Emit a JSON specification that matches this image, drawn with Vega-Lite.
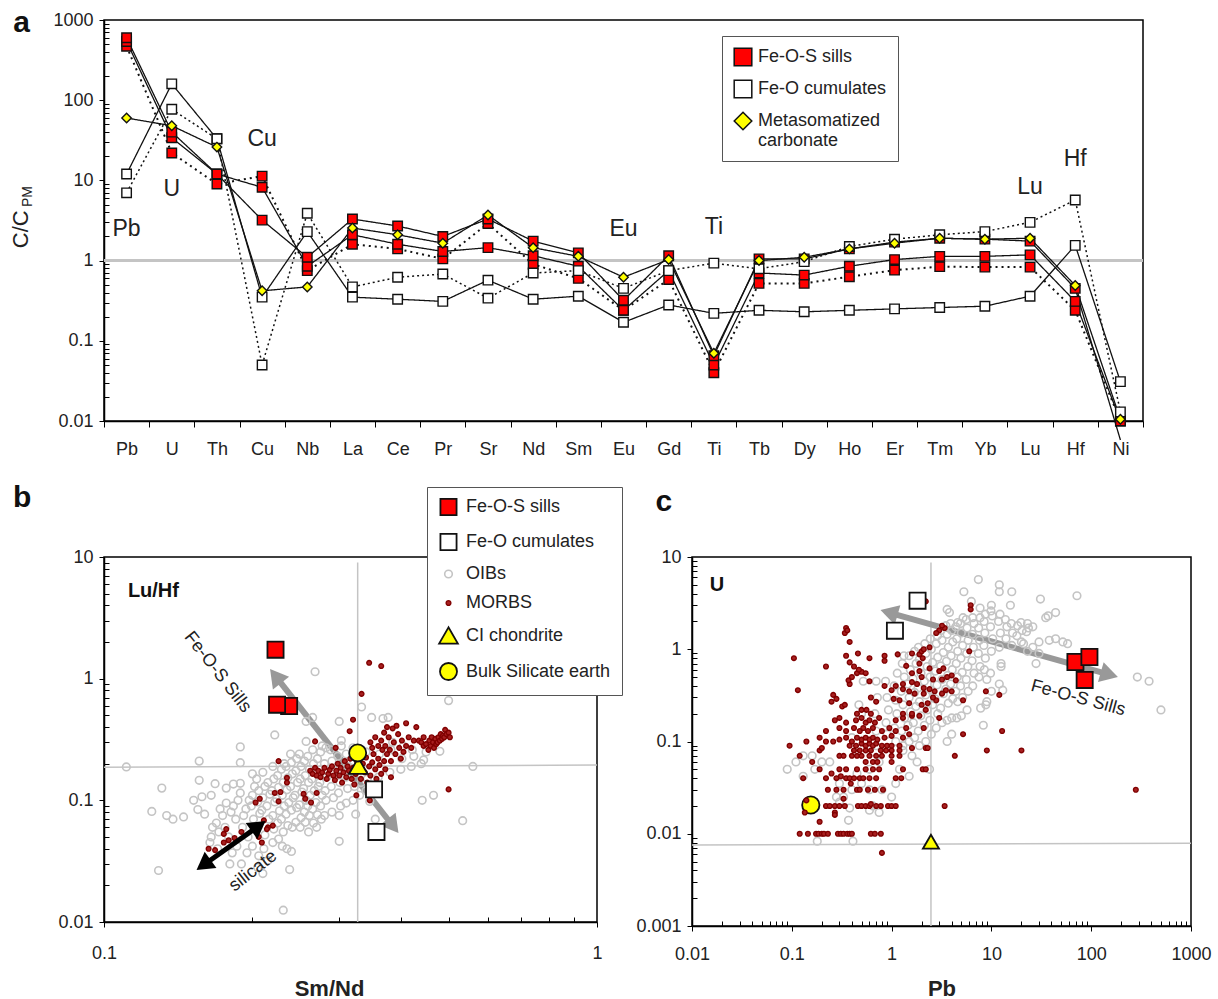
{
"$schema":"https://vega.github.io/schema/vega-lite/v6.json",
"background":"white",
"padding":{"left":8,"top":7,"right":5,"bottom":0},
"config":{"font":"Liberation Sans","view":{"stroke":"black","strokeWidth":1.5},"axis":{"grid":false,"labelFontSize":18,"labelColor":"#222","tickColor":"black","domainColor":"black","domainWidth":1.5,"labelOverlap":false,"labelFlush":false,"labelBound":false,"titleFontSize":22,"titleFontWeight":"bold","titleColor":"#222"}},
"spacing":23,
"resolve":{"scale":{"fill":"independent","shape":"independent","size":"independent","stroke":"independent","strokeWidth":"independent"},"legend":{"fill":"independent","shape":"independent","size":"independent","stroke":"independent","strokeWidth":"independent"}},
"vconcat":[
{"width":1039,"height":401,
"data":{"values":[
{"el":"Pb","v":470,"id":"R3","s":"Fe-O-S sills"},{"el":"U","v":22,"id":"R3","s":"Fe-O-S sills"},{"el":"Th","v":9,"id":"R3","s":"Fe-O-S sills"},{"el":"Cu","v":11.3,"id":"R3","s":"Fe-O-S sills"},{"el":"Nb","v":0.75,"id":"R3","s":"Fe-O-S sills"},{"el":"La","v":1.6,"id":"R3","s":"Fe-O-S sills"},{"el":"Ce","v":1.4,"id":"R3","s":"Fe-O-S sills"},{"el":"Pr","v":1.05,"id":"R3","s":"Fe-O-S sills"},{"el":"Sr","v":2.9,"id":"R3","s":"Fe-O-S sills"},{"el":"Nd","v":0.9,"id":"R3","s":"Fe-O-S sills"},{"el":"Sm","v":0.6,"id":"R3","s":"Fe-O-S sills"},{"el":"Eu","v":0.24,"id":"R3","s":"Fe-O-S sills"},{"el":"Gd","v":0.58,"id":"R3","s":"Fe-O-S sills"},{"el":"Ti","v":0.04,"id":"R3","s":"Fe-O-S sills"},{"el":"Tb","v":0.52,"id":"R3","s":"Fe-O-S sills"},{"el":"Dy","v":0.52,"id":"R3","s":"Fe-O-S sills"},{"el":"Ho","v":0.63,"id":"R3","s":"Fe-O-S sills"},{"el":"Er","v":0.76,"id":"R3","s":"Fe-O-S sills"},{"el":"Tm","v":0.84,"id":"R3","s":"Fe-O-S sills"},{"el":"Yb","v":0.83,"id":"R3","s":"Fe-O-S sills"},{"el":"Lu","v":0.83,"id":"R3","s":"Fe-O-S sills"},{"el":"Hf","v":0.24,"id":"R3","s":"Fe-O-S sills"},{"el":"Ni","v":0.01,"id":"R3","s":"Fe-O-S sills"},
{"el":"Pb","v":540,"id":"R2","s":"Fe-O-S sills"},{"el":"U","v":34,"id":"R2","s":"Fe-O-S sills"},{"el":"Th","v":12,"id":"R2","s":"Fe-O-S sills"},{"el":"Cu","v":8.2,"id":"R2","s":"Fe-O-S sills"},{"el":"Nb","v":0.85,"id":"R2","s":"Fe-O-S sills"},{"el":"La","v":2.1,"id":"R2","s":"Fe-O-S sills"},{"el":"Ce","v":1.6,"id":"R2","s":"Fe-O-S sills"},{"el":"Pr","v":1.3,"id":"R2","s":"Fe-O-S sills"},{"el":"Sr","v":1.45,"id":"R2","s":"Fe-O-S sills"},{"el":"Nd","v":1.15,"id":"R2","s":"Fe-O-S sills"},{"el":"Sm","v":0.85,"id":"R2","s":"Fe-O-S sills"},{"el":"Eu","v":0.24,"id":"R2","s":"Fe-O-S sills"},{"el":"Gd","v":0.75,"id":"R2","s":"Fe-O-S sills"},{"el":"Ti","v":0.05,"id":"R2","s":"Fe-O-S sills"},{"el":"Tb","v":0.7,"id":"R2","s":"Fe-O-S sills"},{"el":"Dy","v":0.66,"id":"R2","s":"Fe-O-S sills"},{"el":"Ho","v":0.85,"id":"R2","s":"Fe-O-S sills"},{"el":"Er","v":1.03,"id":"R2","s":"Fe-O-S sills"},{"el":"Tm","v":1.13,"id":"R2","s":"Fe-O-S sills"},{"el":"Yb","v":1.13,"id":"R2","s":"Fe-O-S sills"},{"el":"Lu","v":1.18,"id":"R2","s":"Fe-O-S sills"},{"el":"Hf","v":0.31,"id":"R2","s":"Fe-O-S sills"},{"el":"Ni","v":0.01,"id":"R2","s":"Fe-O-S sills"},
{"el":"Pb","v":600,"id":"R1","s":"Fe-O-S sills"},{"el":"U","v":40,"id":"R1","s":"Fe-O-S sills"},{"el":"Th","v":12,"id":"R1","s":"Fe-O-S sills"},{"el":"Cu","v":3.2,"id":"R1","s":"Fe-O-S sills"},{"el":"Nb","v":1.1,"id":"R1","s":"Fe-O-S sills"},{"el":"La","v":3.3,"id":"R1","s":"Fe-O-S sills"},{"el":"Ce","v":2.7,"id":"R1","s":"Fe-O-S sills"},{"el":"Pr","v":2,"id":"R1","s":"Fe-O-S sills"},{"el":"Sr","v":3.3,"id":"R1","s":"Fe-O-S sills"},{"el":"Nd","v":1.75,"id":"R1","s":"Fe-O-S sills"},{"el":"Sm","v":1.25,"id":"R1","s":"Fe-O-S sills"},{"el":"Eu","v":0.32,"id":"R1","s":"Fe-O-S sills"},{"el":"Gd","v":1.15,"id":"R1","s":"Fe-O-S sills"},{"el":"Ti","v":0.065,"id":"R1","s":"Fe-O-S sills"},{"el":"Tb","v":1.05,"id":"R1","s":"Fe-O-S sills"},{"el":"Dy","v":1.05,"id":"R1","s":"Fe-O-S sills"},{"el":"Ho","v":1.4,"id":"R1","s":"Fe-O-S sills"},{"el":"Er","v":1.7,"id":"R1","s":"Fe-O-S sills"},{"el":"Tm","v":1.9,"id":"R1","s":"Fe-O-S sills"},{"el":"Yb","v":1.85,"id":"R1","s":"Fe-O-S sills"},{"el":"Lu","v":1.75,"id":"R1","s":"Fe-O-S sills"},{"el":"Hf","v":0.45,"id":"R1","s":"Fe-O-S sills"},{"el":"Ni","v":0.0058,"id":"R1","s":"Fe-O-S sills"},
{"el":"Pb","v":12,"id":"W1","s":"Fe-O cumulates"},{"el":"U","v":160,"id":"W1","s":"Fe-O cumulates"},{"el":"Th","v":33,"id":"W1","s":"Fe-O cumulates"},{"el":"Cu","v":0.35,"id":"W1","s":"Fe-O cumulates"},{"el":"Nb","v":2.3,"id":"W1","s":"Fe-O cumulates"},{"el":"La","v":0.35,"id":"W1","s":"Fe-O cumulates"},{"el":"Ce","v":0.33,"id":"W1","s":"Fe-O cumulates"},{"el":"Pr","v":0.31,"id":"W1","s":"Fe-O cumulates"},{"el":"Sr","v":0.57,"id":"W1","s":"Fe-O cumulates"},{"el":"Nd","v":0.33,"id":"W1","s":"Fe-O cumulates"},{"el":"Sm","v":0.36,"id":"W1","s":"Fe-O cumulates"},{"el":"Eu","v":0.17,"id":"W1","s":"Fe-O cumulates"},{"el":"Gd","v":0.28,"id":"W1","s":"Fe-O cumulates"},{"el":"Ti","v":0.22,"id":"W1","s":"Fe-O cumulates"},{"el":"Tb","v":0.24,"id":"W1","s":"Fe-O cumulates"},{"el":"Dy","v":0.23,"id":"W1","s":"Fe-O cumulates"},{"el":"Ho","v":0.24,"id":"W1","s":"Fe-O cumulates"},{"el":"Er","v":0.25,"id":"W1","s":"Fe-O cumulates"},{"el":"Tm","v":0.26,"id":"W1","s":"Fe-O cumulates"},{"el":"Yb","v":0.27,"id":"W1","s":"Fe-O cumulates"},{"el":"Lu","v":0.36,"id":"W1","s":"Fe-O cumulates"},{"el":"Hf","v":1.55,"id":"W1","s":"Fe-O cumulates"},{"el":"Ni","v":0.031,"id":"W1","s":"Fe-O cumulates"},
{"el":"Pb","v":7,"id":"W2","s":"Fe-O cumulates"},{"el":"U","v":77,"id":"W2","s":"Fe-O cumulates"},{"el":"Th","v":33,"id":"W2","s":"Fe-O cumulates"},{"el":"Cu","v":0.05,"id":"W2","s":"Fe-O cumulates"},{"el":"Nb","v":3.9,"id":"W2","s":"Fe-O cumulates"},{"el":"La","v":0.47,"id":"W2","s":"Fe-O cumulates"},{"el":"Ce","v":0.62,"id":"W2","s":"Fe-O cumulates"},{"el":"Pr","v":0.68,"id":"W2","s":"Fe-O cumulates"},{"el":"Sr","v":0.34,"id":"W2","s":"Fe-O cumulates"},{"el":"Nd","v":0.7,"id":"W2","s":"Fe-O cumulates"},{"el":"Sm","v":0.75,"id":"W2","s":"Fe-O cumulates"},{"el":"Eu","v":0.45,"id":"W2","s":"Fe-O cumulates"},{"el":"Gd","v":0.75,"id":"W2","s":"Fe-O cumulates"},{"el":"Ti","v":0.93,"id":"W2","s":"Fe-O cumulates"},{"el":"Tb","v":0.79,"id":"W2","s":"Fe-O cumulates"},{"el":"Dy","v":0.97,"id":"W2","s":"Fe-O cumulates"},{"el":"Ho","v":1.5,"id":"W2","s":"Fe-O cumulates"},{"el":"Er","v":1.85,"id":"W2","s":"Fe-O cumulates"},{"el":"Tm","v":2.1,"id":"W2","s":"Fe-O cumulates"},{"el":"Yb","v":2.3,"id":"W2","s":"Fe-O cumulates"},{"el":"Lu","v":3,"id":"W2","s":"Fe-O cumulates"},{"el":"Hf","v":5.7,"id":"W2","s":"Fe-O cumulates"},{"el":"Ni","v":0.013,"id":"W2","s":"Fe-O cumulates"},
{"el":"Pb","v":60,"id":"Y1","s":"Metasomatized carbonate"},{"el":"U","v":48,"id":"Y1","s":"Metasomatized carbonate"},{"el":"Th","v":26,"id":"Y1","s":"Metasomatized carbonate"},{"el":"Cu","v":0.42,"id":"Y1","s":"Metasomatized carbonate"},{"el":"Nb","v":0.47,"id":"Y1","s":"Metasomatized carbonate"},{"el":"La","v":2.55,"id":"Y1","s":"Metasomatized carbonate"},{"el":"Ce","v":2.1,"id":"Y1","s":"Metasomatized carbonate"},{"el":"Pr","v":1.65,"id":"Y1","s":"Metasomatized carbonate"},{"el":"Sr","v":3.7,"id":"Y1","s":"Metasomatized carbonate"},{"el":"Nd","v":1.45,"id":"Y1","s":"Metasomatized carbonate"},{"el":"Sm","v":1.13,"id":"Y1","s":"Metasomatized carbonate"},{"el":"Eu","v":0.62,"id":"Y1","s":"Metasomatized carbonate"},{"el":"Gd","v":1.03,"id":"Y1","s":"Metasomatized carbonate"},{"el":"Ti","v":0.07,"id":"Y1","s":"Metasomatized carbonate"},{"el":"Tb","v":1,"id":"Y1","s":"Metasomatized carbonate"},{"el":"Dy","v":1.1,"id":"Y1","s":"Metasomatized carbonate"},{"el":"Ho","v":1.4,"id":"Y1","s":"Metasomatized carbonate"},{"el":"Er","v":1.65,"id":"Y1","s":"Metasomatized carbonate"},{"el":"Tm","v":1.9,"id":"Y1","s":"Metasomatized carbonate"},{"el":"Yb","v":1.85,"id":"Y1","s":"Metasomatized carbonate"},{"el":"Lu","v":1.9,"id":"Y1","s":"Metasomatized carbonate"},{"el":"Hf","v":0.49,"id":"Y1","s":"Metasomatized carbonate"},{"el":"Ni","v":0.0105,"id":"Y1","s":"Metasomatized carbonate"}
]},
"encoding":{
"x":{"field":"el","type":"nominal","bandPosition":0.5,"title":null,"scale":{"type":"band","paddingInner":0,"paddingOuter":0,"domain":["Pb","U","Th","Cu","Nb","La","Ce","Pr","Sr","Nd","Sm","Eu","Gd","Ti","Tb","Dy","Ho","Er","Tm","Yb","Lu","Hf","Ni"]},"axis":{"labelAngle":0,"tickBand":"extent","tickSize":6,"labelPadding":13,"labelFontSize":18}},
"y":{"field":"v","type":"quantitative","title":null,"scale":{"type":"log","domain":[0.01,1000],"nice":false},"axis":{"values":[0.01,0.02,0.03,0.04,0.05,0.06,0.07,0.08,0.09,0.1,0.2,0.3,0.4,0.5,0.6,0.7,0.8,0.9,1,2,3,4,5,6,7,8,9,10,20,30,40,50,60,70,80,90,100,200,300,400,500,600,700,800,900,1000],"labelExpr":"indexof([0.01,0.1,1,10,100,1000],datum.value)>=0?''+datum.value:''","tickSize":{"condition":{"test":"indexof([0.01,0.1,1,10,100,1000],datum.value)>=0","value":5},"value":-5},"labelPadding":6}}
},
"layer":[
{"mark":{"type":"rule","color":"#c4c4c4","strokeWidth":1.5},"encoding":{"x":{},"y":{"datum":1}}},
{"mark":{"type":"line","color":"#111","clip":false},"encoding":{"detail":{"field":"id"},"strokeDash":{"field":"id","legend":null,"scale":{"domain":["R1","R2","R3","W1","W2","Y1"],"range":[[1,0],[1,0],[2,4],[1,0],[2,3],[1,0]]}},"strokeWidth":{"field":"id","type":"nominal","legend":null,"scale":{"type":"ordinal","domain":["R1","R2","R3","W1","W2","Y1"],"range":[1.3,1.3,2,1.3,1.5,1.3]}}}},
{"transform":[{"filter":"datum.v>=0.0099"}],"mark":{"type":"point","filled":true,"opacity":1,"stroke":"#111","strokeWidth":1.4,"size":90},"encoding":{
"fill":{"field":"s","type":"nominal","scale":{"domain":["Fe-O-S sills","Fe-O cumulates","Metasomatized carbonate"],"range":["#ff0000","#ffffff","#ffff00"]},"legend":{"title":null,"orient":"none","legendX":618,"legendY":16,"fillColor":"white","strokeColor":"#555","padding":11,"symbolSize":310,"symbolStrokeColor":"#111","symbolStrokeWidth":1.5,"labelFontSize":18,"labelColor":"#222","rowPadding":8,"labelOffset":5,"labelLimit":300,"labelBaseline":"middle","labelExpr":"datum.label=='Metasomatized carbonate'?['Metasomatized','carbonate']:datum.label"}},
"shape":{"field":"s","type":"nominal","scale":{"domain":["Fe-O-S sills","Fe-O cumulates","Metasomatized carbonate"],"range":["square","square","diamond"]}}}},
{"data":{"values":[{"el":"Pb","v":2.48,"t":"Pb"},{"el":"U","v":7.8,"t":"U"},{"el":"Cu","v":32.8,"t":"Cu"},{"el":"Eu","v":2.48,"t":"Eu"},{"el":"Ti","v":2.6,"t":"Ti"},{"el":"Lu","v":8.3,"t":"Lu"},{"el":"Hf","v":18.5,"t":"Hf"}]},"mark":{"type":"text","fontSize":23,"color":"#222","baseline":"middle"},"encoding":{"text":{"field":"t"}}},
{"data":{"values":[{"el":"Pb","v":1000,"t":"a"}]},"mark":{"type":"text","fontSize":30,"fontWeight":"bold","color":"#111","xOffset":-105,"yOffset":3,"baseline":"middle"},"encoding":{"text":{"field":"t"}}},
{"data":{"values":[{"el":"Pb","v":2.46,"t":"C/C"}]},"mark":{"type":"text","fontSize":22,"color":"#222","angle":270,"xOffset":-106,"baseline":"middle"},"encoding":{"text":{"field":"t"}}},
{"data":{"values":[{"el":"Pb","v":6.3,"t":"PM"}]},"mark":{"type":"text","fontSize":14,"color":"#222","angle":270,"xOffset":-99,"baseline":"middle"},"encoding":{"text":{"field":"t"}}}
]},
{"spacing":11,
"resolve":{"scale":{"fill":"independent","shape":"independent","size":"independent","stroke":"independent","strokeWidth":"independent"},"legend":{"fill":"independent","shape":"independent","size":"independent","stroke":"independent","strokeWidth":"independent"}},
"hconcat":[
{"width":493,"height":365,
"encoding":{
"x":{"field":"x","type":"quantitative","title":"Sm/Nd","scale":{"type":"log","domain":[0.1,1],"nice":false},"axis":{"values":[0.1,0.2,0.3,0.4,0.5,0.6,0.7,0.8,0.9,1],"labelExpr":"indexof([0.1,1],datum.value)>=0?''+datum.value:''","tickSize":{"condition":{"test":"indexof([0.1,1],datum.value)>=0","value":5},"value":-5},"labelPadding":17,"titlePadding":16,"titleX":225}},
"y":{"field":"y","type":"quantitative","title":null,"scale":{"type":"log","domain":[0.01,10],"nice":false},"axis":{"values":[0.01,0.02,0.03,0.04,0.05,0.06,0.07,0.08,0.09,0.1,0.2,0.3,0.4,0.5,0.6,0.7,0.8,0.9,1,2,3,4,5,6,7,8,9,10],"labelExpr":"indexof([0.01,0.1,1,10],datum.value)>=0?''+datum.value:''","tickSize":{"condition":{"test":"indexof([0.01,0.1,1,10],datum.value)>=0","value":5},"value":-5},"labelPadding":6}}
},
"layer":[
{"data":{"values":[{"g":"h","x":0.1,"y":0.187},{"g":"h","x":1,"y":0.195},{"g":"v","x":0.327,"y":9},{"g":"v","x":0.327,"y":0.01}]},"mark":{"type":"line","color":"#c4c4c4","strokeWidth":1.5},"encoding":{"detail":{"field":"g"}}},
{"data":{"values":[{"x":0.2228,"y":1.05},{"x":0.3857,"y":0.0615}]},"mark":{"type":"line","color":"#999999","strokeWidth":6},"encoding":{}},
{"data":{"values":[{"x":0.2228,"y":1.05}]},"mark":{"type":"point","shape":"triangle-up","filled":true,"color":"#999999","opacity":1,"size":420,"angle":322},"encoding":{}},
{"data":{"values":[{"x":0.3857,"y":0.0615}]},"mark":{"type":"point","shape":"triangle-up","filled":true,"color":"#999999","opacity":1,"size":420,"angle":142},"encoding":{}},
{"data":{"values":[
{"x":0.111,"y":0.188,"s":"OIBs"},{"x":0.131,"y":0.126,"s":"OIBs"},{"x":0.156,"y":0.21,"s":"OIBs"},{"x":0.156,"y":0.146,"s":"OIBs"},{"x":0.168,"y":0.137,"s":"OIBs"},{"x":0.177,"y":0.126,"s":"OIBs"},{"x":0.183,"y":0.136,"s":"OIBs"},{"x":0.189,"y":0.138,"s":"OIBs"},{"x":0.189,"y":0.204,"s":"OIBs"},{"x":0.189,"y":0.275,"s":"OIBs"},{"x":0.222,"y":0.345,"s":"OIBs"},{"x":0.239,"y":0.24,"s":"OIBs"},{"x":0.268,"y":1.14,"s":"OIBs"},{"x":0.265,"y":0.48,"s":"OIBs"},{"x":0.257,"y":0.445,"s":"OIBs"},{"x":0.257,"y":0.305,"s":"OIBs"},{"x":0.3,"y":0.445,"s":"OIBs"},{"x":0.303,"y":0.31,"s":"OIBs"},{"x":0.349,"y":0.48,"s":"OIBs"},{"x":0.368,"y":0.47,"s":"OIBs"},{"x":0.377,"y":0.48,"s":"OIBs"},{"x":0.333,"y":0.585,"s":"OIBs"},{"x":0.5,"y":0.66,"s":"OIBs"},{"x":0.56,"y":0.19,"s":"OIBs"},{"x":0.48,"y":0.253,"s":"OIBs"},{"x":0.466,"y":0.11,"s":"OIBs"},{"x":0.442,"y":0.1,"s":"OIBs"},{"x":0.534,"y":0.068,"s":"OIBs"},{"x":0.3,"y":0.046,"s":"OIBs"},{"x":0.238,"y":0.027,"s":"OIBs"},{"x":0.231,"y":0.0125,"s":"OIBs"},{"x":0.129,"y":0.0265,"s":"OIBs"},{"x":0.125,"y":0.081,"s":"OIBs"},{"x":0.134,"y":0.075,"s":"OIBs"},{"x":0.138,"y":0.07,"s":"OIBs"},{"x":0.145,"y":0.073,"s":"OIBs"},{"x":0.152,"y":0.1,"s":"OIBs"},{"x":0.158,"y":0.107,"s":"OIBs"},{"x":0.165,"y":0.11,"s":"OIBs"},{"x":0.155,"y":0.084,"s":"OIBs"},{"x":0.16,"y":0.077,"s":"OIBs"},{"x":0.355,"y":0.07,"s":"OIBs"},{"x":0.324,"y":0.077,"s":"OIBs"},{"x":0.346,"y":0.098,"s":"OIBs"},
{"x":0.165,"y":0.05,"s":"OIBs"},{"x":0.166,"y":0.06,"s":"OIBs"},{"x":0.164,"y":0.045,"s":"OIBs"},{"x":0.17,"y":0.04,"s":"OIBs"},{"x":0.171,"y":0.055,"s":"OIBs"},{"x":0.169,"y":0.065,"s":"OIBs"},{"x":0.172,"y":0.085,"s":"OIBs"},{"x":0.176,"y":0.06,"s":"OIBs"},{"x":0.174,"y":0.075,"s":"OIBs"},{"x":0.177,"y":0.095,"s":"OIBs"},{"x":0.18,"y":0.03,"s":"OIBs"},{"x":0.182,"y":0.037,"s":"OIBs"},{"x":0.179,"y":0.05,"s":"OIBs"},{"x":0.181,"y":0.08,"s":"OIBs"},{"x":0.183,"y":0.09,"s":"OIBs"},{"x":0.186,"y":0.042,"s":"OIBs"},{"x":0.185,"y":0.07,"s":"OIBs"},{"x":0.187,"y":0.1,"s":"OIBs"},{"x":0.19,"y":0.03,"s":"OIBs"},{"x":0.191,"y":0.06,"s":"OIBs"},{"x":0.192,"y":0.075,"s":"OIBs"},{"x":0.189,"y":0.115,"s":"OIBs"},{"x":0.195,"y":0.037,"s":"OIBs"},{"x":0.196,"y":0.05,"s":"OIBs"},{"x":0.194,"y":0.085,"s":"OIBs"},{"x":0.197,"y":0.1,"s":"OIBs"},{"x":0.2,"y":0.042,"s":"OIBs"},{"x":0.201,"y":0.07,"s":"OIBs"},{"x":0.199,"y":0.09,"s":"OIBs"},{"x":0.2,"y":0.11,"s":"OIBs"},{"x":0.202,"y":0.13,"s":"OIBs"},{"x":0.2,"y":0.165,"s":"OIBs"},{"x":0.205,"y":0.028,"s":"OIBs"},{"x":0.206,"y":0.035,"s":"OIBs"},{"x":0.204,"y":0.06,"s":"OIBs"},{"x":0.207,"y":0.078,"s":"OIBs"},{"x":0.205,"y":0.097,"s":"OIBs"},{"x":0.206,"y":0.12,"s":"OIBs"},{"x":0.204,"y":0.15,"s":"OIBs"},{"x":0.21,"y":0.025,"s":"OIBs"},{"x":0.211,"y":0.04,"s":"OIBs"},{"x":0.212,"y":0.052,"s":"OIBs"},{"x":0.209,"y":0.083,"s":"OIBs"},{"x":0.21,"y":0.105,"s":"OIBs"},{"x":0.212,"y":0.13,"s":"OIBs"},{"x":0.21,"y":0.17,"s":"OIBs"},{"x":0.215,"y":0.032,"s":"OIBs"},{"x":0.216,"y":0.07,"s":"OIBs"},{"x":0.214,"y":0.09,"s":"OIBs"},{"x":0.217,"y":0.112,"s":"OIBs"},{"x":0.215,"y":0.14,"s":"OIBs"},{"x":0.22,"y":0.045,"s":"OIBs"},{"x":0.221,"y":0.058,"s":"OIBs"},{"x":0.22,"y":0.075,"s":"OIBs"},{"x":0.222,"y":0.097,"s":"OIBs"},{"x":0.219,"y":0.12,"s":"OIBs"},{"x":0.221,"y":0.15,"s":"OIBs"},{"x":0.22,"y":0.19,"s":"OIBs"},{"x":0.226,"y":0.048,"s":"OIBs"},{"x":0.225,"y":0.065,"s":"OIBs"},{"x":0.227,"y":0.082,"s":"OIBs"},{"x":0.224,"y":0.103,"s":"OIBs"},{"x":0.226,"y":0.128,"s":"OIBs"},{"x":0.225,"y":0.16,"s":"OIBs"},{"x":0.23,"y":0.042,"s":"OIBs"},{"x":0.231,"y":0.055,"s":"OIBs"},{"x":0.229,"y":0.07,"s":"OIBs"},{"x":0.232,"y":0.09,"s":"OIBs"},{"x":0.23,"y":0.11,"s":"OIBs"},{"x":0.231,"y":0.14,"s":"OIBs"},{"x":0.229,"y":0.18,"s":"OIBs"},{"x":0.232,"y":0.2,"s":"OIBs"},{"x":0.235,"y":0.04,"s":"OIBs"},{"x":0.236,"y":0.062,"s":"OIBs"},{"x":0.234,"y":0.077,"s":"OIBs"},{"x":0.237,"y":0.096,"s":"OIBs"},{"x":0.235,"y":0.122,"s":"OIBs"},{"x":0.236,"y":0.153,"s":"OIBs"},{"x":0.234,"y":0.19,"s":"OIBs"},{"x":0.24,"y":0.038,"s":"OIBs"},{"x":0.241,"y":0.06,"s":"OIBs"},{"x":0.24,"y":0.083,"s":"OIBs"},{"x":0.242,"y":0.105,"s":"OIBs"},{"x":0.239,"y":0.13,"s":"OIBs"},{"x":0.241,"y":0.165,"s":"OIBs"},{"x":0.24,"y":0.205,"s":"OIBs"},{"x":0.245,"y":0.066,"s":"OIBs"},{"x":0.246,"y":0.087,"s":"OIBs"},{"x":0.244,"y":0.11,"s":"OIBs"},{"x":0.247,"y":0.14,"s":"OIBs"},{"x":0.245,"y":0.175,"s":"OIBs"},{"x":0.246,"y":0.22,"s":"OIBs"},{"x":0.25,"y":0.06,"s":"OIBs"},{"x":0.251,"y":0.072,"s":"OIBs"},{"x":0.249,"y":0.092,"s":"OIBs"},{"x":0.252,"y":0.117,"s":"OIBs"},{"x":0.25,"y":0.15,"s":"OIBs"},{"x":0.251,"y":0.19,"s":"OIBs"},{"x":0.249,"y":0.24,"s":"OIBs"},{"x":0.256,"y":0.066,"s":"OIBs"},{"x":0.255,"y":0.08,"s":"OIBs"},{"x":0.257,"y":0.1,"s":"OIBs"},{"x":0.254,"y":0.125,"s":"OIBs"},{"x":0.256,"y":0.16,"s":"OIBs"},{"x":0.255,"y":0.21,"s":"OIBs"},{"x":0.26,"y":0.055,"s":"OIBs"},{"x":0.261,"y":0.075,"s":"OIBs"},{"x":0.259,"y":0.09,"s":"OIBs"},{"x":0.262,"y":0.11,"s":"OIBs"},{"x":0.26,"y":0.14,"s":"OIBs"},{"x":0.261,"y":0.18,"s":"OIBs"},{"x":0.259,"y":0.23,"s":"OIBs"},{"x":0.266,"y":0.065,"s":"OIBs"},{"x":0.265,"y":0.085,"s":"OIBs"},{"x":0.267,"y":0.12,"s":"OIBs"},{"x":0.264,"y":0.15,"s":"OIBs"},{"x":0.266,"y":0.2,"s":"OIBs"},{"x":0.265,"y":0.26,"s":"OIBs"},{"x":0.27,"y":0.06,"s":"OIBs"},{"x":0.271,"y":0.076,"s":"OIBs"},{"x":0.269,"y":0.096,"s":"OIBs"},{"x":0.272,"y":0.13,"s":"OIBs"},{"x":0.27,"y":0.165,"s":"OIBs"},{"x":0.271,"y":0.22,"s":"OIBs"},{"x":0.276,"y":0.07,"s":"OIBs"},{"x":0.275,"y":0.09,"s":"OIBs"},{"x":0.277,"y":0.11,"s":"OIBs"},{"x":0.274,"y":0.14,"s":"OIBs"},{"x":0.276,"y":0.18,"s":"OIBs"},{"x":0.275,"y":0.25,"s":"OIBs"},{"x":0.277,"y":0.28,"s":"OIBs"},{"x":0.28,"y":0.075,"s":"OIBs"},{"x":0.282,"y":0.1,"s":"OIBs"},{"x":0.281,"y":0.12,"s":"OIBs"},{"x":0.283,"y":0.155,"s":"OIBs"},{"x":0.28,"y":0.2,"s":"OIBs"},{"x":0.282,"y":0.27,"s":"OIBs"},{"x":0.29,"y":0.08,"s":"OIBs"},{"x":0.292,"y":0.105,"s":"OIBs"},{"x":0.289,"y":0.13,"s":"OIBs"},{"x":0.291,"y":0.165,"s":"OIBs"},{"x":0.29,"y":0.21,"s":"OIBs"},{"x":0.288,"y":0.26,"s":"OIBs"},{"x":0.3,"y":0.075,"s":"OIBs"},{"x":0.302,"y":0.09,"s":"OIBs"},{"x":0.299,"y":0.115,"s":"OIBs"},{"x":0.301,"y":0.14,"s":"OIBs"},{"x":0.3,"y":0.18,"s":"OIBs"},{"x":0.298,"y":0.23,"s":"OIBs"},{"x":0.303,"y":0.28,"s":"OIBs"},{"x":0.31,"y":0.095,"s":"OIBs"},{"x":0.312,"y":0.125,"s":"OIBs"},{"x":0.309,"y":0.155,"s":"OIBs"},{"x":0.311,"y":0.19,"s":"OIBs"},{"x":0.31,"y":0.24,"s":"OIBs"},{"x":0.32,"y":0.1,"s":"OIBs"},{"x":0.322,"y":0.13,"s":"OIBs"},{"x":0.319,"y":0.165,"s":"OIBs"},{"x":0.321,"y":0.21,"s":"OIBs"},{"x":0.32,"y":0.27,"s":"OIBs"},{"x":0.33,"y":0.11,"s":"OIBs"},{"x":0.332,"y":0.14,"s":"OIBs"},{"x":0.33,"y":0.18,"s":"OIBs"},{"x":0.34,"y":0.12,"s":"OIBs"},{"x":0.342,"y":0.15,"s":"OIBs"},{"x":0.34,"y":0.25,"s":"OIBs"},{"x":0.36,"y":0.155,"s":"OIBs"},{"x":0.362,"y":0.24,"s":"OIBs"},{"x":0.38,"y":0.17,"s":"OIBs"},{"x":0.382,"y":0.26,"s":"OIBs"},{"x":0.385,"y":0.3,"s":"OIBs"},{"x":0.4,"y":0.18,"s":"OIBs"},{"x":0.402,"y":0.22,"s":"OIBs"},{"x":0.405,"y":0.28,"s":"OIBs"},{"x":0.42,"y":0.19,"s":"OIBs"},{"x":0.425,"y":0.23,"s":"OIBs"},{"x":0.422,"y":0.26,"s":"OIBs"},{"x":0.44,"y":0.2,"s":"OIBs"},{"x":0.445,"y":0.215,"s":"OIBs"},{"x":0.45,"y":0.25,"s":"OIBs"},
{"x":0.345,"y":1.35,"s":"MORBS"},{"x":0.365,"y":1.27,"s":"MORBS"},{"x":0.333,"y":0.75,"s":"MORBS"},{"x":0.32,"y":0.46,"s":"MORBS"},{"x":0.315,"y":0.37,"s":"MORBS"},{"x":0.268,"y":0.305,"s":"MORBS"},{"x":0.295,"y":0.27,"s":"MORBS"},{"x":0.226,"y":0.21,"s":"MORBS"},{"x":0.5,"y":0.123,"s":"MORBS"},{"x":0.325,"y":0.11,"s":"MORBS"},{"x":0.346,"y":0.1,"s":"MORBS"},{"x":0.382,"y":0.155,"s":"MORBS"},{"x":0.235,"y":0.153,"s":"MORBS"},{"x":0.235,"y":0.14,"s":"MORBS"},{"x":0.222,"y":0.115,"s":"MORBS"},{"x":0.228,"y":0.117,"s":"MORBS"},{"x":0.226,"y":0.098,"s":"MORBS"},{"x":0.254,"y":0.113,"s":"MORBS"},{"x":0.256,"y":0.103,"s":"MORBS"},{"x":0.263,"y":0.096,"s":"MORBS"},{"x":0.27,"y":0.115,"s":"MORBS"},{"x":0.203,"y":0.096,"s":"MORBS"},{"x":0.207,"y":0.103,"s":"MORBS"},{"x":0.211,"y":0.0685,"s":"MORBS"},{"x":0.215,"y":0.06,"s":"MORBS"},{"x":0.22,"y":0.062,"s":"MORBS"},{"x":0.214,"y":0.058,"s":"MORBS"},{"x":0.209,"y":0.045,"s":"MORBS"},{"x":0.206,"y":0.05,"s":"MORBS"},{"x":0.19,"y":0.055,"s":"MORBS"},{"x":0.184,"y":0.049,"s":"MORBS"},{"x":0.179,"y":0.047,"s":"MORBS"},{"x":0.175,"y":0.053,"s":"MORBS"},{"x":0.177,"y":0.058,"s":"MORBS"},{"x":0.175,"y":0.045,"s":"MORBS"},{"x":0.163,"y":0.04,"s":"MORBS"},{"x":0.168,"y":0.039,"s":"MORBS"},
{"x":0.262,"y":0.175,"s":"MORBS"},{"x":0.265,"y":0.165,"s":"MORBS"},{"x":0.268,"y":0.185,"s":"MORBS"},{"x":0.27,"y":0.16,"s":"MORBS"},{"x":0.272,"y":0.175,"s":"MORBS"},{"x":0.275,"y":0.155,"s":"MORBS"},{"x":0.277,"y":0.17,"s":"MORBS"},{"x":0.28,"y":0.185,"s":"MORBS"},{"x":0.283,"y":0.15,"s":"MORBS"},{"x":0.285,"y":0.165,"s":"MORBS"},{"x":0.287,"y":0.178,"s":"MORBS"},{"x":0.29,"y":0.19,"s":"MORBS"},{"x":0.292,"y":0.16,"s":"MORBS"},{"x":0.294,"y":0.147,"s":"MORBS"},{"x":0.296,"y":0.175,"s":"MORBS"},{"x":0.298,"y":0.2,"s":"MORBS"},{"x":0.3,"y":0.16,"s":"MORBS"},{"x":0.302,"y":0.185,"s":"MORBS"},{"x":0.304,"y":0.14,"s":"MORBS"},{"x":0.306,"y":0.17,"s":"MORBS"},{"x":0.308,"y":0.21,"s":"MORBS"},{"x":0.31,"y":0.155,"s":"MORBS"},{"x":0.312,"y":0.19,"s":"MORBS"},{"x":0.314,"y":0.175,"s":"MORBS"},{"x":0.316,"y":0.22,"s":"MORBS"},{"x":0.318,"y":0.15,"s":"MORBS"},{"x":0.32,"y":0.185,"s":"MORBS"},{"x":0.322,"y":0.135,"s":"MORBS"},{"x":0.324,"y":0.165,"s":"MORBS"},{"x":0.326,"y":0.21,"s":"MORBS"},{"x":0.33,"y":0.18,"s":"MORBS"},{"x":0.332,"y":0.15,"s":"MORBS"},{"x":0.335,"y":0.2,"s":"MORBS"},{"x":0.338,"y":0.17,"s":"MORBS"},{"x":0.34,"y":0.225,"s":"MORBS"},{"x":0.342,"y":0.14,"s":"MORBS"},{"x":0.345,"y":0.19,"s":"MORBS"},{"x":0.347,"y":0.16,"s":"MORBS"},{"x":0.35,"y":0.205,"s":"MORBS"},{"x":0.352,"y":0.24,"s":"MORBS"},{"x":0.355,"y":0.18,"s":"MORBS"},{"x":0.357,"y":0.15,"s":"MORBS"},{"x":0.36,"y":0.22,"s":"MORBS"},{"x":0.362,"y":0.195,"s":"MORBS"},{"x":0.365,"y":0.165,"s":"MORBS"},{"x":0.367,"y":0.26,"s":"MORBS"},{"x":0.37,"y":0.21,"s":"MORBS"},{"x":0.372,"y":0.18,"s":"MORBS"},{"x":0.375,"y":0.24,"s":"MORBS"},{"x":0.347,"y":0.3,"s":"MORBS"},{"x":0.35,"y":0.27,"s":"MORBS"},{"x":0.355,"y":0.33,"s":"MORBS"},{"x":0.36,"y":0.28,"s":"MORBS"},{"x":0.365,"y":0.31,"s":"MORBS"},{"x":0.37,"y":0.36,"s":"MORBS"},{"x":0.372,"y":0.28,"s":"MORBS"},{"x":0.375,"y":0.4,"s":"MORBS"},{"x":0.378,"y":0.33,"s":"MORBS"},{"x":0.38,"y":0.26,"s":"MORBS"},{"x":0.382,"y":0.21,"s":"MORBS"},{"x":0.385,"y":0.39,"s":"MORBS"},{"x":0.387,"y":0.3,"s":"MORBS"},{"x":0.39,"y":0.24,"s":"MORBS"},{"x":0.392,"y":0.41,"s":"MORBS"},{"x":0.395,"y":0.35,"s":"MORBS"},{"x":0.397,"y":0.27,"s":"MORBS"},{"x":0.4,"y":0.22,"s":"MORBS"},{"x":0.402,"y":0.31,"s":"MORBS"},{"x":0.405,"y":0.25,"s":"MORBS"},{"x":0.41,"y":0.43,"s":"MORBS"},{"x":0.41,"y":0.28,"s":"MORBS"},{"x":0.415,"y":0.33,"s":"MORBS"},{"x":0.42,"y":0.27,"s":"MORBS"},{"x":0.425,"y":0.31,"s":"MORBS"},{"x":0.43,"y":0.4,"s":"MORBS"},{"x":0.435,"y":0.31,"s":"MORBS"},{"x":0.44,"y":0.3,"s":"MORBS"},{"x":0.445,"y":0.33,"s":"MORBS"},{"x":0.445,"y":0.28,"s":"MORBS"},{"x":0.45,"y":0.29,"s":"MORBS"},{"x":0.455,"y":0.26,"s":"MORBS"},{"x":0.457,"y":0.31,"s":"MORBS"},{"x":0.46,"y":0.28,"s":"MORBS"},{"x":0.462,"y":0.33,"s":"MORBS"},{"x":0.465,"y":0.3,"s":"MORBS"},{"x":0.467,"y":0.27,"s":"MORBS"},{"x":0.47,"y":0.32,"s":"MORBS"},{"x":0.472,"y":0.29,"s":"MORBS"},{"x":0.475,"y":0.3,"s":"MORBS"},{"x":0.477,"y":0.33,"s":"MORBS"},{"x":0.48,"y":0.31,"s":"MORBS"},{"x":0.482,"y":0.35,"s":"MORBS"},{"x":0.485,"y":0.32,"s":"MORBS"},{"x":0.487,"y":0.34,"s":"MORBS"},{"x":0.49,"y":0.33,"s":"MORBS"},{"x":0.492,"y":0.38,"s":"MORBS"},{"x":0.495,"y":0.35,"s":"MORBS"},{"x":0.5,"y":0.36,"s":"MORBS"},{"x":0.503,"y":0.33,"s":"MORBS"},
{"x":0.353,"y":0.123,"s":"Fe-O cumulates"},{"x":0.357,"y":0.055,"s":"Fe-O cumulates"},{"x":0.2228,"y":1.73,"s":"Fe-O-S sills"},{"x":0.2374,"y":0.596,"s":"Fe-O-S sills"},{"x":0.2244,"y":0.611,"s":"Fe-O-S sills"},{"x":0.328,"y":0.192,"s":"CI chondrite"},{"x":0.327,"y":0.245,"s":"Bulk Silicate earth"}
]},
"mark":{"type":"point","filled":true,"opacity":1},
"encoding":{
"fill":{"field":"s","type":"nominal","scale":{"domain":["Fe-O-S sills","Fe-O cumulates","OIBs","MORBS","CI chondrite","Bulk Silicate earth"],"range":["#ff0000","#ffffff","transparent","#a82020","#ffff00","#ffff00"]},"legend":{"title":null,"orient":"none","legendX":323,"legendY":-70,"fillColor":"white","strokeColor":"#555","padding":11,"labelFontSize":18,"labelColor":"#222","rowPadding":11,"labelOffset":7,"labelLimit":300,"labelBaseline":"middle"}},
"stroke":{"field":"s","type":"nominal","scale":{"domain":["Fe-O-S sills","Fe-O cumulates","OIBs","MORBS","CI chondrite","Bulk Silicate earth"],"range":["#111","#111","#c4c4c4","#800000","#111","#111"]}},
"shape":{"field":"s","type":"nominal","scale":{"domain":["Fe-O-S sills","Fe-O cumulates","OIBs","MORBS","CI chondrite","Bulk Silicate earth"],"range":["square","square","circle","circle","triangle-up","circle"]}},
"size":{"field":"s","type":"nominal","scale":{"type":"ordinal","domain":["Fe-O-S sills","Fe-O cumulates","OIBs","MORBS","CI chondrite","Bulk Silicate earth"],"range":[260,260,58,22,350,290]}},
"strokeWidth":{"field":"s","type":"nominal","scale":{"type":"ordinal","domain":["Fe-O-S sills","Fe-O cumulates","OIBs","MORBS","CI chondrite","Bulk Silicate earth"],"range":[1.8,1.8,1.6,1.4,1.8,1.8]}}
}},
{"data":{"values":[{"x":0.1592,"y":0.0294},{"x":0.2058,"y":0.0615}]},"mark":{"type":"line","color":"black","strokeWidth":5},"encoding":{}},
{"data":{"values":[{"x":0.2058,"y":0.0615}]},"mark":{"type":"point","shape":"triangle-up","filled":true,"color":"black","opacity":1,"size":400,"angle":54},"encoding":{}},
{"data":{"values":[{"x":0.1592,"y":0.0294}]},"mark":{"type":"point","shape":"triangle-up","filled":true,"color":"black","opacity":1,"size":400,"angle":234},"encoding":{}},
{"data":{"values":[{"x":0.1118,"y":5.25,"t":"Lu/Hf"}]},"mark":{"type":"text","fontSize":20,"fontWeight":"bold","color":"#111","align":"left","baseline":"middle"},"encoding":{"text":{"field":"t"}}},
{"data":{"values":[{"x":0.17,"y":1.13,"t":"Fe-O-S Sills"}]},"mark":{"type":"text","fontSize":18,"color":"#222","angle":52,"baseline":"middle"},"encoding":{"text":{"field":"t"}}},
{"data":{"values":[{"x":0.2006,"y":0.0262,"t":"silicate"}]},"mark":{"type":"text","fontSize":18,"color":"#222","angle":322,"baseline":"middle"},"encoding":{"text":{"field":"t"}}},
{"data":{"values":[{"x":0.0682,"y":30.5,"t":"b"}]},"mark":{"type":"text","fontSize":30,"fontWeight":"bold","color":"#111","baseline":"middle"},"encoding":{"text":{"field":"t"}}}
]},
{"width":499,"height":369,
"encoding":{
"x":{"field":"x","type":"quantitative","title":"Pb","scale":{"type":"log","domain":[0.01,1000],"nice":false},"axis":{"values":[0.01,0.02,0.03,0.04,0.05,0.06,0.07,0.08,0.09,0.1,0.2,0.3,0.4,0.5,0.6,0.7,0.8,0.9,1,2,3,4,5,6,7,8,9,10,20,30,40,50,60,70,80,90,100,200,300,400,500,600,700,800,900,1000],"labelExpr":"indexof([0.01,0.1,1,10,100,1000],datum.value)>=0?''+datum.value:''","tickSize":{"condition":{"test":"indexof([0.01,0.1,1,10,100,1000],datum.value)>=0","value":5},"value":-5},"labelPadding":14,"titlePadding":15}},
"y":{"field":"y","type":"quantitative","title":null,"scale":{"type":"log","domain":[0.001,10],"nice":false},"axis":{"values":[0.001,0.002,0.003,0.004,0.005,0.006,0.007,0.008,0.009,0.01,0.02,0.03,0.04,0.05,0.06,0.07,0.08,0.09,0.1,0.2,0.3,0.4,0.5,0.6,0.7,0.8,0.9,1,2,3,4,5,6,7,8,9,10],"labelExpr":"indexof([0.001,0.01,0.1,1,10],datum.value)>=0?''+datum.value:''","tickSize":{"condition":{"test":"indexof([0.001,0.01,0.1,1,10],datum.value)>=0","value":5},"value":-5},"labelPadding":6}}
},
"layer":[
{"data":{"values":[{"g":"h","x":0.01,"y":0.00755},{"g":"h","x":1000,"y":0.0079},{"g":"v","x":2.48,"y":8.7},{"g":"v","x":2.48,"y":0.001}]},"mark":{"type":"line","color":"#c4c4c4","strokeWidth":1.5},"encoding":{"detail":{"field":"g"}}},
{"data":{"values":[{"x":0.942,"y":2.5},{"x":152,"y":0.532}]},"mark":{"type":"line","color":"#999999","strokeWidth":6},"encoding":{}},
{"data":{"values":[{"x":0.942,"y":2.5}]},"mark":{"type":"point","shape":"triangle-up","filled":true,"color":"#999999","opacity":1,"size":420,"angle":286},"encoding":{}},
{"data":{"values":[{"x":152,"y":0.532}]},"mark":{"type":"point","shape":"triangle-up","filled":true,"color":"#999999","opacity":1,"size":420,"angle":106},"encoding":{}},
{"data":{"values":[
{"x":0.155,"y":0.0205,"s":"Bulk Silicate earth"},{"x":2.48,"y":0.0082,"s":"CI chondrite"},
{"x":7.4,"y":5.7,"s":"OIBs"},{"x":12,"y":5,"s":"OIBs"},{"x":12,"y":4.2,"s":"OIBs"},{"x":16,"y":4.2,"s":"OIBs"},{"x":5.3,"y":4.2,"s":"OIBs"},{"x":31,"y":3.5,"s":"OIBs"},{"x":72,"y":3.8,"s":"OIBs"},{"x":6.3,"y":3.3,"s":"OIBs"},{"x":7.7,"y":2.8,"s":"OIBs"},{"x":10,"y":3,"s":"OIBs"},{"x":15.5,"y":3,"s":"OIBs"},{"x":3.6,"y":2.7,"s":"OIBs"},{"x":3.8,"y":2.5,"s":"OIBs"},{"x":5.2,"y":2.2,"s":"OIBs"},{"x":35,"y":2.2,"s":"OIBs"},{"x":37,"y":2.3,"s":"OIBs"},{"x":44,"y":2.5,"s":"OIBs"},{"x":30,"y":1.2,"s":"OIBs"},{"x":38,"y":1.25,"s":"OIBs"},{"x":44,"y":1.3,"s":"OIBs"},{"x":52,"y":1.2,"s":"OIBs"},{"x":58,"y":1.15,"s":"OIBs"},{"x":26,"y":1.05,"s":"OIBs"},{"x":21,"y":1.15,"s":"OIBs"},{"x":23,"y":0.95,"s":"OIBs"},{"x":30,"y":0.9,"s":"OIBs"},{"x":28,"y":0.7,"s":"OIBs"},{"x":12.5,"y":0.7,"s":"OIBs"},{"x":12.5,"y":0.65,"s":"OIBs"},{"x":9.8,"y":0.55,"s":"OIBs"},{"x":9,"y":0.47,"s":"OIBs"},{"x":12,"y":0.42,"s":"OIBs"},{"x":13,"y":0.36,"s":"OIBs"},{"x":10,"y":0.35,"s":"OIBs"},{"x":8.8,"y":0.25,"s":"OIBs"},{"x":7.8,"y":0.23,"s":"OIBs"},{"x":9,"y":0.27,"s":"OIBs"},{"x":8.3,"y":0.15,"s":"OIBs"},{"x":4,"y":0.12,"s":"OIBs"},{"x":3.6,"y":0.1,"s":"OIBs"},{"x":290,"y":0.5,"s":"OIBs"},{"x":380,"y":0.45,"s":"OIBs"},{"x":500,"y":0.22,"s":"OIBs"},
{"x":0.09,"y":0.05,"s":"OIBs"},{"x":0.11,"y":0.06,"s":"OIBs"},{"x":0.13,"y":0.07,"s":"OIBs"},{"x":0.13,"y":0.042,"s":"OIBs"},{"x":0.16,"y":0.07,"s":"OIBs"},{"x":0.17,"y":0.05,"s":"OIBs"},{"x":0.2,"y":0.06,"s":"OIBs"},{"x":0.24,"y":0.06,"s":"OIBs"},{"x":0.18,"y":0.0083,"s":"OIBs"},{"x":0.41,"y":0.0083,"s":"OIBs"},{"x":0.37,"y":0.014,"s":"OIBs"},{"x":0.6,"y":0.018,"s":"OIBs"},{"x":0.75,"y":0.017,"s":"OIBs"},{"x":0.28,"y":0.025,"s":"OIBs"},{"x":0.3,"y":0.022,"s":"OIBs"},{"x":0.33,"y":0.025,"s":"OIBs"},{"x":0.38,"y":0.019,"s":"OIBs"},{"x":1,"y":0.025,"s":"OIBs"},{"x":0.65,"y":0.02,"s":"OIBs"},{"x":0.3,"y":0.035,"s":"OIBs"},{"x":0.4,"y":0.03,"s":"OIBs"},{"x":0.5,"y":0.035,"s":"OIBs"},{"x":0.6,"y":0.03,"s":"OIBs"},{"x":0.8,"y":0.03,"s":"OIBs"},{"x":1.1,"y":0.035,"s":"OIBs"},{"x":0.45,"y":0.045,"s":"OIBs"},{"x":0.6,"y":0.05,"s":"OIBs"},{"x":0.75,"y":0.06,"s":"OIBs"},{"x":1.5,"y":0.042,"s":"OIBs"},{"x":1.2,"y":0.05,"s":"OIBs"},{"x":1.8,"y":0.06,"s":"OIBs"},{"x":1.6,"y":0.07,"s":"OIBs"},{"x":1.3,"y":0.08,"s":"OIBs"},{"x":0.9,"y":0.085,"s":"OIBs"},{"x":2.4,"y":0.05,"s":"OIBs"},{"x":0.4,"y":0.11,"s":"OIBs"},{"x":0.7,"y":0.09,"s":"OIBs"},
{"x":0.5,"y":0.2,"s":"OIBs"},{"x":0.47,"y":0.25,"s":"OIBs"},{"x":0.52,"y":0.45,"s":"OIBs"},{"x":0.7,"y":0.13,"s":"OIBs"},{"x":0.68,"y":0.2,"s":"OIBs"},{"x":0.72,"y":0.3,"s":"OIBs"},{"x":0.7,"y":0.45,"s":"OIBs"},{"x":0.9,"y":0.12,"s":"OIBs"},{"x":0.88,"y":0.16,"s":"OIBs"},{"x":0.93,"y":0.22,"s":"OIBs"},{"x":0.9,"y":0.3,"s":"OIBs"},{"x":0.87,"y":0.45,"s":"OIBs"},{"x":1.1,"y":0.1,"s":"OIBs"},{"x":1.07,"y":0.14,"s":"OIBs"},{"x":1.13,"y":0.2,"s":"OIBs"},{"x":1.1,"y":0.28,"s":"OIBs"},{"x":1.06,"y":0.4,"s":"OIBs"},{"x":1.14,"y":0.55,"s":"OIBs"},{"x":1.3,"y":0.09,"s":"OIBs"},{"x":1.26,"y":0.13,"s":"OIBs"},{"x":1.35,"y":0.18,"s":"OIBs"},{"x":1.3,"y":0.25,"s":"OIBs"},{"x":1.25,"y":0.35,"s":"OIBs"},{"x":1.34,"y":0.5,"s":"OIBs"},{"x":1.28,"y":0.7,"s":"OIBs"},{"x":1.33,"y":0.85,"s":"OIBs"},{"x":1.5,"y":0.1,"s":"OIBs"},{"x":1.46,"y":0.15,"s":"OIBs"},{"x":1.55,"y":0.21,"s":"OIBs"},{"x":1.5,"y":0.3,"s":"OIBs"},{"x":1.45,"y":0.42,"s":"OIBs"},{"x":1.54,"y":0.6,"s":"OIBs"},{"x":1.5,"y":0.85,"s":"OIBs"},{"x":1.7,"y":0.11,"s":"OIBs"},{"x":1.65,"y":0.16,"s":"OIBs"},{"x":1.75,"y":0.24,"s":"OIBs"},{"x":1.7,"y":0.34,"s":"OIBs"},{"x":1.64,"y":0.48,"s":"OIBs"},{"x":1.76,"y":0.7,"s":"OIBs"},{"x":1.7,"y":0.95,"s":"OIBs"},{"x":1.9,"y":0.09,"s":"OIBs"},{"x":1.85,"y":0.13,"s":"OIBs"},{"x":1.96,"y":0.19,"s":"OIBs"},{"x":1.9,"y":0.27,"s":"OIBs"},{"x":1.84,"y":0.38,"s":"OIBs"},{"x":1.97,"y":0.55,"s":"OIBs"},{"x":1.9,"y":0.78,"s":"OIBs"},{"x":1.86,"y":1.05,"s":"OIBs"},{"x":2.2,"y":0.1,"s":"OIBs"},{"x":2.13,"y":0.15,"s":"OIBs"},{"x":2.27,"y":0.22,"s":"OIBs"},{"x":2.2,"y":0.32,"s":"OIBs"},{"x":2.13,"y":0.45,"s":"OIBs"},{"x":2.27,"y":0.65,"s":"OIBs"},{"x":2.2,"y":0.9,"s":"OIBs"},{"x":2.15,"y":1.15,"s":"OIBs"},{"x":2.5,"y":0.12,"s":"OIBs"},{"x":2.42,"y":0.17,"s":"OIBs"},{"x":2.58,"y":0.25,"s":"OIBs"},{"x":2.5,"y":0.36,"s":"OIBs"},{"x":2.43,"y":0.5,"s":"OIBs"},{"x":2.58,"y":0.72,"s":"OIBs"},{"x":2.5,"y":1,"s":"OIBs"},{"x":2.44,"y":1.3,"s":"OIBs"},{"x":2.8,"y":0.14,"s":"OIBs"},{"x":2.9,"y":0.2,"s":"OIBs"},{"x":2.72,"y":0.29,"s":"OIBs"},{"x":2.85,"y":0.41,"s":"OIBs"},{"x":2.75,"y":0.58,"s":"OIBs"},{"x":2.9,"y":0.82,"s":"OIBs"},{"x":2.8,"y":1.15,"s":"OIBs"},{"x":2.88,"y":1.4,"s":"OIBs"},{"x":3.2,"y":0.16,"s":"OIBs"},{"x":3.1,"y":0.23,"s":"OIBs"},{"x":3.3,"y":0.33,"s":"OIBs"},{"x":3.2,"y":0.47,"s":"OIBs"},{"x":3.1,"y":0.66,"s":"OIBs"},{"x":3.3,"y":0.92,"s":"OIBs"},{"x":3.2,"y":1.25,"s":"OIBs"},{"x":3.12,"y":1.6,"s":"OIBs"},{"x":3.6,"y":0.17,"s":"OIBs"},{"x":3.7,"y":0.26,"s":"OIBs"},{"x":3.5,"y":0.37,"s":"OIBs"},{"x":3.65,"y":0.52,"s":"OIBs"},{"x":3.55,"y":0.74,"s":"OIBs"},{"x":3.7,"y":1.05,"s":"OIBs"},{"x":3.6,"y":1.45,"s":"OIBs"},{"x":3.5,"y":1.8,"s":"OIBs"},{"x":4,"y":0.18,"s":"OIBs"},{"x":4.1,"y":0.29,"s":"OIBs"},{"x":3.9,"y":0.42,"s":"OIBs"},{"x":4.05,"y":0.6,"s":"OIBs"},{"x":3.95,"y":0.85,"s":"OIBs"},{"x":4.1,"y":1.2,"s":"OIBs"},{"x":4,"y":1.6,"s":"OIBs"},{"x":3.9,"y":1.9,"s":"OIBs"},{"x":4.5,"y":0.18,"s":"OIBs"},{"x":4.6,"y":0.27,"s":"OIBs"},{"x":4.4,"y":0.35,"s":"OIBs"},{"x":4.55,"y":0.5,"s":"OIBs"},{"x":4.45,"y":0.7,"s":"OIBs"},{"x":4.6,"y":0.95,"s":"OIBs"},{"x":4.5,"y":1.3,"s":"OIBs"},{"x":4.4,"y":1.75,"s":"OIBs"},{"x":4.6,"y":1.95,"s":"OIBs"},{"x":5,"y":0.19,"s":"OIBs"},{"x":5.15,"y":0.3,"s":"OIBs"},{"x":4.9,"y":0.4,"s":"OIBs"},{"x":5.1,"y":0.56,"s":"OIBs"},{"x":4.95,"y":0.8,"s":"OIBs"},{"x":5.15,"y":1.1,"s":"OIBs"},{"x":5,"y":1.5,"s":"OIBs"},{"x":4.9,"y":1.9,"s":"OIBs"},{"x":5.7,"y":0.22,"s":"OIBs"},{"x":5.85,"y":0.35,"s":"OIBs"},{"x":5.6,"y":0.47,"s":"OIBs"},{"x":5.8,"y":0.65,"s":"OIBs"},{"x":5.65,"y":0.9,"s":"OIBs"},{"x":5.85,"y":1.25,"s":"OIBs"},{"x":5.7,"y":1.7,"s":"OIBs"},{"x":5.6,"y":2.1,"s":"OIBs"},{"x":6.5,"y":0.4,"s":"OIBs"},{"x":6.7,"y":0.55,"s":"OIBs"},{"x":6.4,"y":0.75,"s":"OIBs"},{"x":6.6,"y":1.05,"s":"OIBs"},{"x":6.45,"y":1.45,"s":"OIBs"},{"x":6.7,"y":1.9,"s":"OIBs"},{"x":6.5,"y":2.2,"s":"OIBs"},{"x":7.5,"y":0.5,"s":"OIBs"},{"x":7.7,"y":0.65,"s":"OIBs"},{"x":7.4,"y":0.9,"s":"OIBs"},{"x":7.6,"y":1.25,"s":"OIBs"},{"x":7.45,"y":1.7,"s":"OIBs"},{"x":7.7,"y":2.2,"s":"OIBs"},{"x":8.5,"y":0.6,"s":"OIBs"},{"x":8.7,"y":0.8,"s":"OIBs"},{"x":8.4,"y":1.1,"s":"OIBs"},{"x":8.6,"y":1.5,"s":"OIBs"},{"x":8.45,"y":2,"s":"OIBs"},{"x":8.7,"y":2.4,"s":"OIBs"},{"x":10,"y":0.95,"s":"OIBs"},{"x":10.3,"y":1.3,"s":"OIBs"},{"x":9.8,"y":1.75,"s":"OIBs"},{"x":10.2,"y":2.3,"s":"OIBs"},{"x":9.9,"y":2.6,"s":"OIBs"},{"x":12,"y":1.05,"s":"OIBs"},{"x":12.3,"y":1.5,"s":"OIBs"},{"x":11.8,"y":2,"s":"OIBs"},{"x":12.2,"y":2.4,"s":"OIBs"},{"x":14,"y":1.3,"s":"OIBs"},{"x":14.3,"y":1.75,"s":"OIBs"},{"x":13.8,"y":2.1,"s":"OIBs"},{"x":16,"y":1.1,"s":"OIBs"},{"x":16.3,"y":1.5,"s":"OIBs"},{"x":15.8,"y":1.9,"s":"OIBs"},{"x":18,"y":1.4,"s":"OIBs"},{"x":18.3,"y":1.8,"s":"OIBs"},{"x":20,"y":1.2,"s":"OIBs"},{"x":20.3,"y":1.6,"s":"OIBs"},{"x":19.8,"y":1.95,"s":"OIBs"},{"x":23,"y":1.9,"s":"OIBs"},{"x":23.5,"y":1.7,"s":"OIBs"},{"x":22.5,"y":1.55,"s":"OIBs"},{"x":26,"y":1.75,"s":"OIBs"},
{"x":0.12,"y":0.01,"s":"MORBS"},{"x":0.145,"y":0.01,"s":"MORBS"},{"x":0.175,"y":0.01,"s":"MORBS"},{"x":0.185,"y":0.01,"s":"MORBS"},{"x":0.2,"y":0.01,"s":"MORBS"},{"x":0.21,"y":0.01,"s":"MORBS"},{"x":0.23,"y":0.01,"s":"MORBS"},{"x":0.29,"y":0.01,"s":"MORBS"},{"x":0.31,"y":0.01,"s":"MORBS"},{"x":0.33,"y":0.01,"s":"MORBS"},{"x":0.36,"y":0.01,"s":"MORBS"},{"x":0.38,"y":0.01,"s":"MORBS"},{"x":0.4,"y":0.01,"s":"MORBS"},{"x":0.62,"y":0.01,"s":"MORBS"},{"x":0.68,"y":0.01,"s":"MORBS"},{"x":0.78,"y":0.01,"s":"MORBS"},
{"x":0.22,"y":0.02,"s":"MORBS"},{"x":0.24,"y":0.02,"s":"MORBS"},{"x":0.27,"y":0.02,"s":"MORBS"},{"x":0.3,"y":0.02,"s":"MORBS"},{"x":0.34,"y":0.02,"s":"MORBS"},{"x":0.46,"y":0.02,"s":"MORBS"},{"x":0.5,"y":0.02,"s":"MORBS"},{"x":0.55,"y":0.02,"s":"MORBS"},{"x":0.6,"y":0.02,"s":"MORBS"},{"x":0.62,"y":0.021,"s":"MORBS"},{"x":0.7,"y":0.02,"s":"MORBS"},{"x":0.78,"y":0.02,"s":"MORBS"},{"x":0.92,"y":0.02,"s":"MORBS"},{"x":1,"y":0.02,"s":"MORBS"},{"x":1.1,"y":0.02,"s":"MORBS"},{"x":3.4,"y":0.02,"s":"MORBS"},{"x":0.14,"y":0.023,"s":"MORBS"},{"x":0.135,"y":0.017,"s":"MORBS"},{"x":0.27,"y":0.017,"s":"MORBS"},{"x":0.27,"y":0.016,"s":"MORBS"},{"x":0.19,"y":0.0135,"s":"MORBS"},{"x":0.8,"y":0.0062,"s":"MORBS"},{"x":0.33,"y":0.024,"s":"MORBS"},
{"x":0.23,"y":0.03,"s":"MORBS"},{"x":0.28,"y":0.03,"s":"MORBS"},{"x":0.33,"y":0.03,"s":"MORBS"},{"x":0.45,"y":0.03,"s":"MORBS"},{"x":0.48,"y":0.03,"s":"MORBS"},{"x":0.58,"y":0.03,"s":"MORBS"},{"x":0.68,"y":0.03,"s":"MORBS"},{"x":0.82,"y":0.03,"s":"MORBS"},{"x":0.39,"y":0.035,"s":"MORBS"},
{"x":0.13,"y":0.04,"s":"MORBS"},{"x":0.22,"y":0.04,"s":"MORBS"},{"x":0.28,"y":0.04,"s":"MORBS"},{"x":0.31,"y":0.042,"s":"MORBS"},{"x":0.35,"y":0.04,"s":"MORBS"},{"x":0.38,"y":0.04,"s":"MORBS"},{"x":0.42,"y":0.04,"s":"MORBS"},{"x":0.48,"y":0.04,"s":"MORBS"},{"x":0.52,"y":0.04,"s":"MORBS"},{"x":0.6,"y":0.04,"s":"MORBS"},{"x":0.7,"y":0.04,"s":"MORBS"},{"x":1.1,"y":0.04,"s":"MORBS"},{"x":1.25,"y":0.04,"s":"MORBS"},
{"x":0.19,"y":0.05,"s":"MORBS"},{"x":0.25,"y":0.045,"s":"MORBS"},{"x":0.3,"y":0.05,"s":"MORBS"},{"x":0.35,"y":0.05,"s":"MORBS"},{"x":0.45,"y":0.05,"s":"MORBS"},{"x":0.55,"y":0.05,"s":"MORBS"},{"x":0.65,"y":0.05,"s":"MORBS"},{"x":0.75,"y":0.05,"s":"MORBS"},{"x":1.3,"y":0.05,"s":"MORBS"},{"x":2.05,"y":0.05,"s":"MORBS"},{"x":2.2,"y":0.05,"s":"MORBS"},{"x":0.16,"y":0.06,"s":"MORBS"},{"x":0.55,"y":0.06,"s":"MORBS"},{"x":0.65,"y":0.06,"s":"MORBS"},{"x":0.72,"y":0.06,"s":"MORBS"},{"x":1,"y":0.06,"s":"MORBS"},
{"x":0.12,"y":0.07,"s":"MORBS"},{"x":0.3,"y":0.07,"s":"MORBS"},{"x":0.33,"y":0.07,"s":"MORBS"},{"x":0.4,"y":0.07,"s":"MORBS"},{"x":0.45,"y":0.07,"s":"MORBS"},{"x":0.5,"y":0.07,"s":"MORBS"},{"x":0.6,"y":0.07,"s":"MORBS"},{"x":0.7,"y":0.07,"s":"MORBS"},{"x":0.8,"y":0.07,"s":"MORBS"},{"x":1,"y":0.07,"s":"MORBS"},{"x":1.2,"y":0.07,"s":"MORBS"},
{"x":0.19,"y":0.08,"s":"MORBS"},{"x":0.42,"y":0.08,"s":"MORBS"},{"x":0.48,"y":0.08,"s":"MORBS"},{"x":0.55,"y":0.08,"s":"MORBS"},{"x":0.62,"y":0.08,"s":"MORBS"},{"x":0.78,"y":0.08,"s":"MORBS"},{"x":0.88,"y":0.08,"s":"MORBS"},{"x":1,"y":0.08,"s":"MORBS"},{"x":1.2,"y":0.08,"s":"MORBS"},{"x":1.6,"y":0.085,"s":"MORBS"},{"x":2.2,"y":0.085,"s":"MORBS"},{"x":2.3,"y":0.085,"s":"MORBS"},
{"x":0.095,"y":0.09,"s":"MORBS"},{"x":0.2,"y":0.085,"s":"MORBS"},{"x":0.38,"y":0.09,"s":"MORBS"},{"x":0.44,"y":0.09,"s":"MORBS"},{"x":0.5,"y":0.095,"s":"MORBS"},{"x":0.55,"y":0.09,"s":"MORBS"},{"x":0.6,"y":0.095,"s":"MORBS"},{"x":0.65,"y":0.09,"s":"MORBS"},{"x":0.7,"y":0.095,"s":"MORBS"},{"x":0.8,"y":0.09,"s":"MORBS"},{"x":0.9,"y":0.09,"s":"MORBS"},{"x":1,"y":0.09,"s":"MORBS"},{"x":1.2,"y":0.09,"s":"MORBS"},
{"x":0.14,"y":0.1,"s":"MORBS"},{"x":0.19,"y":0.11,"s":"MORBS"},{"x":0.22,"y":0.1,"s":"MORBS"},{"x":0.26,"y":0.1,"s":"MORBS"},{"x":0.3,"y":0.105,"s":"MORBS"},{"x":0.35,"y":0.11,"s":"MORBS"},{"x":0.4,"y":0.1,"s":"MORBS"},{"x":0.45,"y":0.11,"s":"MORBS"},{"x":0.5,"y":0.105,"s":"MORBS"},{"x":0.55,"y":0.11,"s":"MORBS"},{"x":0.6,"y":0.105,"s":"MORBS"},{"x":0.65,"y":0.11,"s":"MORBS"},{"x":0.72,"y":0.105,"s":"MORBS"},{"x":0.85,"y":0.11,"s":"MORBS"},{"x":1,"y":0.115,"s":"MORBS"},{"x":1.3,"y":0.11,"s":"MORBS"},{"x":1.5,"y":0.12,"s":"MORBS"},{"x":2.1,"y":0.14,"s":"MORBS"},
{"x":0.22,"y":0.13,"s":"MORBS"},{"x":0.3,"y":0.14,"s":"MORBS"},{"x":0.35,"y":0.13,"s":"MORBS"},{"x":0.42,"y":0.14,"s":"MORBS"},{"x":0.48,"y":0.13,"s":"MORBS"},{"x":0.52,"y":0.14,"s":"MORBS"},{"x":0.58,"y":0.13,"s":"MORBS"},{"x":0.65,"y":0.14,"s":"MORBS"},{"x":0.8,"y":0.13,"s":"MORBS"},{"x":0.95,"y":0.14,"s":"MORBS"},{"x":1.1,"y":0.13,"s":"MORBS"},{"x":1.4,"y":0.14,"s":"MORBS"},
{"x":0.27,"y":0.17,"s":"MORBS"},{"x":0.3,"y":0.18,"s":"MORBS"},{"x":0.35,"y":0.16,"s":"MORBS"},{"x":0.44,"y":0.17,"s":"MORBS"},{"x":0.5,"y":0.18,"s":"MORBS"},{"x":0.55,"y":0.16,"s":"MORBS"},{"x":0.6,"y":0.17,"s":"MORBS"},{"x":0.68,"y":0.16,"s":"MORBS"},{"x":0.75,"y":0.18,"s":"MORBS"},{"x":1.1,"y":0.17,"s":"MORBS"},{"x":1.3,"y":0.18,"s":"MORBS"},{"x":1.6,"y":0.19,"s":"MORBS"},{"x":1.9,"y":0.19,"s":"MORBS"},{"x":2.2,"y":0.22,"s":"MORBS"},{"x":3,"y":0.18,"s":"MORBS"},
{"x":0.32,"y":0.24,"s":"MORBS"},{"x":0.45,"y":0.2,"s":"MORBS"},{"x":0.5,"y":0.22,"s":"MORBS"},{"x":0.56,"y":0.22,"s":"MORBS"},{"x":0.62,"y":0.2,"s":"MORBS"},{"x":0.7,"y":0.27,"s":"MORBS"},{"x":1.3,"y":0.2,"s":"MORBS"},{"x":1.6,"y":0.2,"s":"MORBS"},{"x":1.2,"y":0.28,"s":"MORBS"},{"x":1.05,"y":0.29,"s":"MORBS"},{"x":1.5,"y":0.26,"s":"MORBS"},{"x":2,"y":0.25,"s":"MORBS"},{"x":2.3,"y":0.26,"s":"MORBS"},{"x":2.8,"y":0.28,"s":"MORBS"},{"x":3.2,"y":0.33,"s":"MORBS"},{"x":2.6,"y":0.3,"s":"MORBS"},
{"x":0.25,"y":0.27,"s":"MORBS"},{"x":0.26,"y":0.32,"s":"MORBS"},{"x":0.28,"y":0.29,"s":"MORBS"},{"x":0.34,"y":0.25,"s":"MORBS"},{"x":0.62,"y":0.3,"s":"MORBS"},{"x":1,"y":0.36,"s":"MORBS"},{"x":1.3,"y":0.37,"s":"MORBS"},{"x":1.5,"y":0.35,"s":"MORBS"},{"x":1.7,"y":0.33,"s":"MORBS"},{"x":2.1,"y":0.33,"s":"MORBS"},{"x":2.4,"y":0.37,"s":"MORBS"},{"x":2.7,"y":0.35,"s":"MORBS"},{"x":3.5,"y":0.36,"s":"MORBS"},{"x":4,"y":0.35,"s":"MORBS"},
{"x":0.6,"y":0.45,"s":"MORBS"},{"x":0.85,"y":0.4,"s":"MORBS"},{"x":1.1,"y":0.4,"s":"MORBS"},{"x":1.3,"y":0.42,"s":"MORBS"},{"x":1.6,"y":0.44,"s":"MORBS"},{"x":1.8,"y":0.42,"s":"MORBS"},{"x":2.1,"y":0.38,"s":"MORBS"},{"x":2.6,"y":0.47,"s":"MORBS"},{"x":3.2,"y":0.47,"s":"MORBS"},{"x":3.6,"y":0.5,"s":"MORBS"},{"x":4.4,"y":0.46,"s":"MORBS"},{"x":4,"y":0.52,"s":"MORBS"},
{"x":0.38,"y":0.42,"s":"MORBS"},{"x":0.4,"y":0.5,"s":"MORBS"},{"x":0.37,"y":0.46,"s":"MORBS"},{"x":0.45,"y":0.55,"s":"MORBS"},{"x":0.5,"y":0.57,"s":"MORBS"},{"x":0.55,"y":0.55,"s":"MORBS"},{"x":0.42,"y":0.65,"s":"MORBS"},{"x":0.47,"y":0.6,"s":"MORBS"},{"x":0.38,"y":0.72,"s":"MORBS"},{"x":0.35,"y":0.85,"s":"MORBS"},{"x":0.46,"y":0.9,"s":"MORBS"},{"x":0.6,"y":0.8,"s":"MORBS"},{"x":0.85,"y":0.75,"s":"MORBS"},{"x":0.85,"y":0.85,"s":"MORBS"},{"x":0.38,"y":1.2,"s":"MORBS"},{"x":0.34,"y":1.5,"s":"MORBS"},{"x":0.35,"y":1.7,"s":"MORBS"},{"x":0.36,"y":1.6,"s":"MORBS"},
{"x":1.6,"y":0.55,"s":"MORBS"},{"x":1.9,"y":0.58,"s":"MORBS"},{"x":2,"y":0.5,"s":"MORBS"},{"x":1.4,"y":0.66,"s":"MORBS"},{"x":1.9,"y":0.7,"s":"MORBS"},{"x":2.4,"y":0.62,"s":"MORBS"},{"x":3,"y":0.58,"s":"MORBS"},{"x":3.3,"y":0.62,"s":"MORBS"},{"x":1.6,"y":0.9,"s":"MORBS"},{"x":1.15,"y":0.88,"s":"MORBS"},{"x":1.9,"y":0.88,"s":"MORBS"},{"x":2,"y":0.95,"s":"MORBS"},{"x":2.1,"y":1,"s":"MORBS"},{"x":2.4,"y":1.05,"s":"MORBS"},{"x":2.05,"y":0.8,"s":"MORBS"},
{"x":0.105,"y":0.8,"s":"MORBS"},{"x":0.22,"y":0.65,"s":"MORBS"},{"x":0.115,"y":0.36,"s":"MORBS"},{"x":2.2,"y":3.3,"s":"MORBS"},{"x":6.2,"y":3,"s":"MORBS"},{"x":6.2,"y":2.7,"s":"MORBS"},{"x":3.4,"y":1.7,"s":"MORBS"},{"x":3,"y":1.6,"s":"MORBS"},{"x":2.8,"y":1.5,"s":"MORBS"},{"x":3.2,"y":1.8,"s":"MORBS"},{"x":6,"y":0.95,"s":"MORBS"},{"x":8.8,"y":0.35,"s":"MORBS"},{"x":12,"y":0.32,"s":"MORBS"},{"x":5.2,"y":0.28,"s":"MORBS"},{"x":12.8,"y":0.13,"s":"MORBS"},{"x":5.2,"y":0.12,"s":"MORBS"},{"x":9,"y":0.08,"s":"MORBS"},{"x":20,"y":0.08,"s":"MORBS"},{"x":4.3,"y":0.07,"s":"MORBS"},{"x":280,"y":0.03,"s":"MORBS"},
{"x":1.82,"y":3.36,"s":"Fe-O cumulates"},{"x":1.08,"y":1.59,"s":"Fe-O cumulates"},{"x":69.5,"y":0.728,"s":"Fe-O-S sills"},{"x":96,"y":0.824,"s":"Fe-O-S sills"},{"x":86,"y":0.465,"s":"Fe-O-S sills"}
]},
"mark":{"type":"point","filled":true,"opacity":1},
"encoding":{
"fill":{"field":"s","type":"nominal","legend":null,"scale":{"domain":["Fe-O-S sills","Fe-O cumulates","OIBs","MORBS","CI chondrite","Bulk Silicate earth"],"range":["#ff0000","#ffffff","transparent","#a82020","#ffff00","#ffff00"]}},
"stroke":{"field":"s","type":"nominal","legend":null,"scale":{"domain":["Fe-O-S sills","Fe-O cumulates","OIBs","MORBS","CI chondrite","Bulk Silicate earth"],"range":["#111","#111","#c4c4c4","#800000","#111","#111"]}},
"shape":{"field":"s","type":"nominal","legend":null,"scale":{"domain":["Fe-O-S sills","Fe-O cumulates","OIBs","MORBS","CI chondrite","Bulk Silicate earth"],"range":["square","square","circle","circle","triangle-up","circle"]}},
"size":{"field":"s","type":"nominal","legend":null,"scale":{"type":"ordinal","domain":["Fe-O-S sills","Fe-O cumulates","OIBs","MORBS","CI chondrite","Bulk Silicate earth"],"range":[260,260,58,22,260,300]}},
"strokeWidth":{"field":"s","type":"nominal","legend":null,"scale":{"type":"ordinal","domain":["Fe-O-S sills","Fe-O cumulates","OIBs","MORBS","CI chondrite","Bulk Silicate earth"],"range":[1.8,1.8,1.6,1.4,1.8,1.8]}}
}},
{"data":{"values":[{"x":0.0151,"y":5,"t":"U"}]},"mark":{"type":"text","fontSize":20,"fontWeight":"bold","color":"#111","align":"left","baseline":"middle"},"encoding":{"text":{"field":"t"}}},
{"data":{"values":[{"x":73.8,"y":0.295,"t":"Fe-O-S Sills"}]},"mark":{"type":"text","fontSize":18,"color":"#222","angle":15,"baseline":"middle"},"encoding":{"text":{"field":"t"}}},
{"data":{"values":[{"x":0.00523,"y":39.8,"t":"c"}]},"mark":{"type":"text","fontSize":30,"fontWeight":"bold","color":"#111","baseline":"middle"},"encoding":{"text":{"field":"t"}}}
]}
]}
]}
